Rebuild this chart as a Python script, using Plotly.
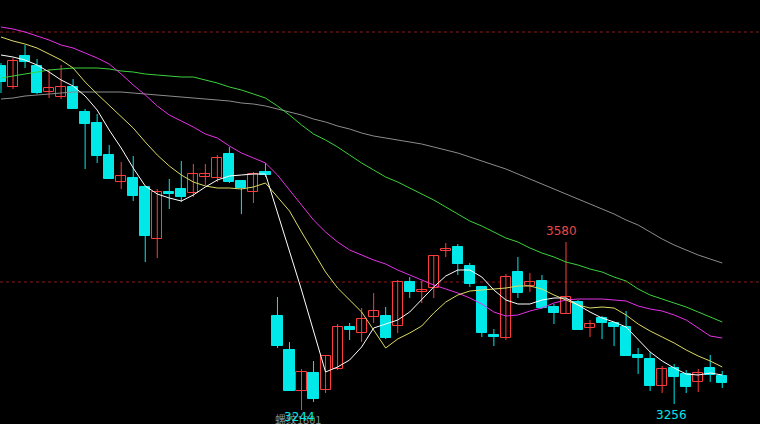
import plotly.graph_objects as go

# ---- data (prices) ----
idx = list(range(61))
opens = [3932, 3890, 3952, 3932, 3880, 3870, 3890, 3840, 3818, 3754,
         3700, 3708, 3690, 3586, 3680, 3686, 3678, 3710, 3708, 3756,
         3702, 3680, 3720, 3432, 3364, 3282, 3318, 3284, 3326, 3410,
         3398, 3430, 3432, 3412, 3500, 3480, 3488, 3562, 3570, 3532,
         3490, 3394, 3388, 3520, 3492, 3502, 3450, 3436, 3460, 3408,
         3428, 3418, 3410, 3354, 3346, 3292, 3328, 3316, 3300, 3328, 3312]
highs = [3938, 3948, 3974, 3946, 3926, 3934, 3906, 3846, 3836, 3774,
         3740, 3752, 3690, 3686, 3706, 3742, 3736, 3736, 3754, 3770,
         3704, 3720, 3738, 3470, 3380, 3326, 3342, 3354, 3416, 3418,
         3448, 3478, 3450, 3504, 3510, 3502, 3554, 3578, 3576, 3538,
         3492, 3406, 3516, 3550, 3518, 3514, 3456, 3580, 3464, 3424,
         3432, 3420, 3442, 3368, 3360, 3332, 3336, 3324, 3326, 3354, 3322]
lows = [3878, 3886, 3928, 3876, 3868, 3866, 3846, 3726, 3738, 3706,
        3686, 3662, 3540, 3548, 3646, 3660, 3670, 3694, 3700, 3698,
        3636, 3658, 3710, 3368, 3282, 3244, 3260, 3278, 3324, 3384,
        3380, 3418, 3386, 3398, 3468, 3458, 3468, 3550, 3514, 3490,
        3390, 3372, 3384, 3468, 3480, 3446, 3416, 3436, 3404, 3390,
        3386, 3372, 3352, 3316, 3282, 3278, 3256, 3278, 3280, 3300, 3288]
closes = [3900, 3942, 3940, 3878, 3888, 3890, 3846, 3816, 3752, 3706,
          3712, 3672, 3592, 3680, 3676, 3670, 3716, 3716, 3748, 3700,
          3688, 3716, 3714, 3372, 3282, 3320, 3266, 3352, 3410, 3404,
          3426, 3442, 3388, 3500, 3480, 3484, 3552, 3566, 3536, 3496,
          3398, 3390, 3510, 3478, 3500, 3448, 3438, 3470, 3404, 3416,
          3418, 3410, 3352, 3348, 3292, 3326, 3310, 3290, 3318, 3314, 3298]

# moving averages (pixel y -> price = 4064 - 2*y)
ma5_px = [55, 57, 60, 65, 72, 80, 86, 96, 110, 130, 148, 168, 186, 194, 198, 201,
          195, 187, 180, 176, 175, 174, 174, 213, 250, 290, 331, 372, 367, 360,
          347, 328, 324, 320, 312, 299, 287, 276, 270, 270, 277, 290, 300, 304,
          304, 300, 298, 298, 305, 312, 318, 322, 327, 340, 352, 361, 368, 374,
          375, 373, 375]
ma10_px = [37, 41, 44, 48, 54, 60, 68, 82, 94, 105, 116, 128, 142, 155, 166, 175,
           182, 186, 188, 188, 189, 187, 183, 197, 211, 232, 252, 272, 288, 300,
           312, 330, 348, 339, 333, 326, 313, 302, 295, 291, 290, 289, 288, 286,
           286, 289, 295, 300, 305, 308, 307, 308, 315, 324, 331, 337, 343, 350,
           356, 361, 367]
ma20_px = [27, 29, 32, 36, 40, 45, 48, 53, 58, 64, 74, 85, 95, 106, 115, 121,
           127, 134, 138, 146, 153, 158, 163, 175, 190, 205, 220, 232, 242, 250,
           255, 260, 264, 270, 275, 280, 285, 289, 293, 298, 304, 312, 316, 315,
           311, 308, 303, 300, 299, 299, 299, 300, 301, 306, 309, 311, 315, 320,
           328, 336, 338]
ma60_px = [78, 76, 74, 72, 70, 69, 68, 68, 68, 69, 71, 72, 74, 75, 76, 77,
           77, 80, 83, 87, 90, 94, 98, 106, 115, 125, 134, 140, 147, 155,
           163, 170, 177, 182, 188, 194, 200, 207, 214, 221, 226, 232, 238, 242,
           248, 253, 257, 262, 265, 269, 272, 277, 281, 289, 295, 299, 303, 307,
           312, 317, 322]
ma120_px = [99, 98, 96, 95, 94, 93, 92, 92, 92, 92, 92, 93, 94, 95, 96, 97,
            98, 99, 100, 101, 103, 104, 106, 109, 112, 115, 119, 122, 126, 129,
            133, 136, 138, 140, 142, 144, 147, 150, 153, 157, 161, 165, 169, 174,
            179, 184, 189, 194, 199, 204, 209, 214, 220, 225, 232, 239, 245, 250,
            255, 259, 263]

def to_price(px):
    return [4064 - 2 * v for v in px]

ma5 = to_price(ma5_px)
ma10 = to_price(ma10_px)
ma20 = to_price(ma20_px)
ma60 = to_price(ma60_px)
ma120 = to_price(ma120_px)

ref_levels = [4000, 3500]
label_hi = ("3580", 47, 3580)
label_lo = ("3256", 56, 3256)
label_lo2 = ("3244", 25, 3244)
contract = "螺纹1801"

UP = "#ff3c3c"
DOWN = "#00e8e8"

fig = go.Figure()

# wicks
for col, cond in ((UP, lambda o, c: c > o), (DOWN, lambda o, c: c <= o)):
    xs, ys = [], []
    for i, o, h, l, c in zip(idx, opens, highs, lows, closes):
        if cond(o, c):
            xs += [i, i, None]
            ys += [l, h, None]
    fig.add_trace(go.Scatter(x=xs, y=ys, mode="lines",
                             line=dict(color=col, width=1), hoverinfo="skip",
                             showlegend=False))

# bodies
for col, fill, cond in ((UP, "#000000", lambda o, c: c > o),
                        (DOWN, DOWN, lambda o, c: c <= o)):
    bx, bb, bh = [], [], []
    for i, o, c in zip(idx, opens, closes):
        if cond(o, c):
            lo_, hi_ = min(o, c), max(o, c)
            bx.append(i)
            bb.append(lo_)
            bh.append(max(hi_ - lo_, 1.5))
    fig.add_trace(go.Bar(x=bx, y=bh, base=bb, width=0.84,
                         marker=dict(color=fill, line=dict(color=col, width=1)),
                         hoverinfo="skip", showlegend=False))

# moving averages
for vals, col in ((ma120, "#8c8c8c"), (ma60, "#3cd23c"), (ma20, "#e632e6"),
                  (ma10, "#dcdc64"), (ma5, "#ffffff")):
    fig.add_trace(go.Scatter(x=idx, y=vals, mode="lines",
                             line=dict(color=col, width=1), hoverinfo="skip",
                             showlegend=False))

for lv in ref_levels:
    fig.add_shape(type="line", xref="paper", x0=0, x1=1, y0=lv, y1=lv,
                  line=dict(color="#8b1a1a", width=1, dash="3px,3px"), layer="below")

fig.add_annotation(x=label_hi[1], y=label_hi[2], text=label_hi[0], showarrow=False,
                   yanchor="bottom", yshift=2, xshift=-4,
                   font=dict(color="#e84848", size=12, family="DejaVu Sans"))
fig.add_annotation(x=label_lo[1], y=label_lo[2], text=label_lo[0], showarrow=False,
                   yanchor="top", yshift=-2, xshift=-3,
                   font=dict(color=DOWN, size=12, family="DejaVu Sans"))
fig.add_annotation(x=label_lo2[1], y=label_lo2[2], text=contract, showarrow=False,
                   yanchor="top", yshift=1, xshift=-4,
                   font=dict(color="#7f8f8f", size=11, family="Noto Sans CJK SC"))
fig.add_annotation(x=label_lo2[1], y=label_lo2[2], text=label_lo2[0], showarrow=False,
                   yanchor="top", yshift=2, xshift=-2,
                   font=dict(color=DOWN, size=12, family="DejaVu Sans"))

fig.update_layout(
    width=760, height=424,
    margin=dict(l=0, r=0, t=0, b=0),
    paper_bgcolor="#000000", plot_bgcolor="#000000",
    bargap=0, barmode="overlay",
    xaxis=dict(range=[-0.083, 63.14], visible=False, fixedrange=True),
    yaxis=dict(range=[3216, 4064], visible=False, fixedrange=True),
    showlegend=False,
)

fig.write_html("out.html", config={"displayModeBar": False},
               post_script="document.body.style.margin='0';document.body.style.background='#000';")
